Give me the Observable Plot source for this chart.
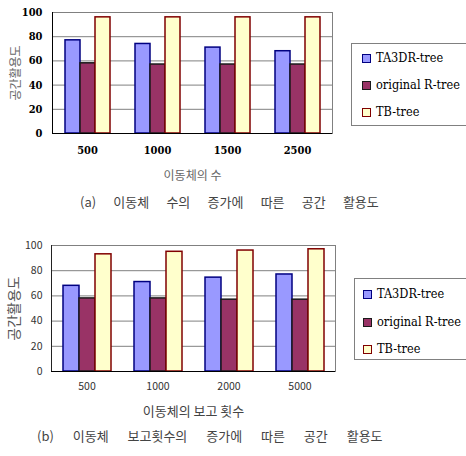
<!DOCTYPE html>
<html><head><meta charset="utf-8">
<script src="https://cdn.jsdelivr.net/npm/d3@7"></script>
<script src="https://cdn.jsdelivr.net/npm/@observablehq/plot@0.6"></script>
<style>
body{margin:0;background:#fff;}
#root{position:relative;width:466px;height:456px;overflow:hidden;background:#fff;}
.panel{position:absolute;left:0;}
.legend{position:absolute;border:1px solid #808080;background:#fff;font-family:"DejaVu Serif",serif;font-stretch:condensed;font-size:13px;color:#000;}
.legend .item{position:absolute;display:flex;align-items:center;white-space:nowrap;height:16px;line-height:16px;}
.legend .sw{width:7px;height:7px;border:1px solid;margin-right:5px;flex:none;}
.caption{position:absolute;font-family:"Noto Sans CJK KR",sans-serif;color:#444;font-size:13px;white-space:nowrap;line-height:16px;}
#pa svg g[aria-label="y-axis tick label"], #pa svg g[aria-label="fx-axis tick label"]{font-family:"DejaVu Serif",serif;font-stretch:condensed;font-weight:bold;font-size:11px;fill:#000;}
#pb svg g[aria-label="y-axis tick label"], #pb svg g[aria-label="fx-axis tick label"]{font-family:"Noto Sans CJK KR",sans-serif;font-size:10.5px;fill:#333;}
#pa svg g[aria-label="y-axis label"], #pa svg g[aria-label="fx-axis label"]{font-family:"Noto Sans CJK KR",sans-serif;font-size:12px;fill:#666;}
#pb svg g[aria-label="y-axis label"]{font-family:"Noto Sans CJK KR",sans-serif;font-size:14px;fill:#555;}
#pb svg g[aria-label="fx-axis label"]{font-family:"Noto Sans CJK KR",sans-serif;font-size:13px;fill:#444;}
</style>
</head><body>
<div id="root"></div>
<script>
const seriesNames = ["TA3DR-tree", "original R-tree", "TB-tree"];
const seriesFill = ["#9999FF", "#993366", "#FFFFCC"];
const seriesStroke = ["#000080", "#1a1a1a", "#800000"];

const categoriesA = ["500", "1000", "1500", "2500"];
const ta3drA = [77, 74, 71, 68];
const rtreeA = [58, 57, 57, 57];
const tbA = [96, 96, 96, 96];

const categoriesB = ["500", "1000", "2000", "5000"];
const ta3drB = [68, 71, 74.5, 77];
const rtreeB = [58, 58, 57, 57];
const tbB = [93, 95, 96, 97];

const yTicks = [0, 20, 40, 60, 80, 100];
const yLabel = "공간활용도";
const xLabelA = "이동체의 수";
const xLabelB = "이동체의 보고 횟수";
const captionA = "(a) 이동체 수의 증가에 따른 공간 활용도";
const captionB = "(b) 이동체 보고횟수의 증가에 따른 공간 활용도";

function table(cats, valueLists) {
  const out = [];
  valueLists.forEach((vals, si) => cats.forEach((c, i) => out.push({cat: c, series: seriesNames[si], value: vals[i]})));
  return out;
}

function panel(cfg, useSuper) {
  const rows = table(cfg.cats, cfg.values);
  const marks = [
    Plot.ruleY(yTicks.filter(v => v > 0), {stroke: "#808080", strokeWidth: 1})
  ];
  if (useSuper) {
    marks.push(Plot.frame({stroke: "#808080", facet: "super"}));
    marks.push(Plot.frame({anchor: "left", stroke: cfg.leftStroke, facet: "super"}));
  }
  seriesNames.forEach((s, i) => {
    marks.push(Plot.barY(rows.filter(d => d.series === s), {
      fx: "cat", x: "series", y: "value",
      fill: seriesFill[i], stroke: seriesStroke[i], strokeWidth: 1.5
    }));
  });
  marks.push(Plot.ruleY([0], {stroke: "#000", strokeWidth: 1.2}));
  return Plot.plot({
    width: cfg.width, height: cfg.height,
    marginLeft: cfg.ml, marginRight: cfg.mr, marginTop: cfg.mt, marginBottom: cfg.mb,
    style: {background: "transparent", overflow: "visible"},
    fx: {domain: cfg.cats, padding: 0, label: cfg.xLabel, labelAnchor: "center", labelArrow: "none", labelOffset: cfg.fxLabelOffset, tickSize: 0, tickPadding: cfg.fxTickPadding},
    x: {domain: seriesNames, paddingInner: 0, paddingOuter: 0.7, axis: null},
    y: {domain: [0, 100], ticks: yTicks, label: yLabel, labelAnchor: "center", labelArrow: "none", labelOffset: cfg.yLabelOffset, tickSize: 0, tickPadding: cfg.yTickPadding},
    marks
  });
}

function build(cfg) {
  let svg;
  try { svg = panel(cfg, true); } catch (e) { svg = panel(cfg, false); }
  return svg;
}

const root = document.getElementById("root");

const cfgA = {cats: categoriesA, values: [ta3drA, rtreeA, tbA], width: 345, height: 185, ml: 51, mr: 12, mt: 12, mb: 52,
  xLabel: xLabelA, fxLabelOffset: 46, fxTickPadding: 13, yLabelOffset: 41, yTickPadding: 10, leftStroke: "#000"};
const cfgB = {cats: categoriesB, values: [ta3drB, rtreeB, tbB], width: 345, height: 195, ml: 50, mr: 10, mt: 20, mb: 49,
  xLabel: xLabelB, fxLabelOffset: 44, fxTickPadding: 11, yLabelOffset: 42, yTickPadding: 9, leftStroke: "#222"};

function addPanel(id, top, cfg) {
  const d = document.createElement("div");
  d.className = "panel"; d.id = id; d.style.top = top + "px";
  d.appendChild(build(cfg));
  root.appendChild(d);
}
addPanel("pa", 0, cfgA);
addPanel("pb", 225, cfgB);

function legend(left, top, h, itemTops, swLeft) {
  const L = document.createElement("div");
  L.className = "legend";
  Object.assign(L.style, {left: left + "px", top: top + "px", width: "140px", height: h + "px"});
  const spans = [];
  seriesNames.forEach((s, i) => {
    const it = document.createElement("div");
    it.className = "item";
    Object.assign(it.style, {left: swLeft + "px", top: itemTops[i] + "px"});
    const sw = document.createElement("span");
    sw.className = "sw";
    sw.style.background = seriesFill[i];
    sw.style.borderColor = seriesStroke[i];
    const t = document.createElement("span");
    t.textContent = s;
    it.appendChild(sw); it.appendChild(t);
    L.appendChild(it);
    spans.push(t);
  });
  root.appendChild(L);
  // shrink the legend font so the longest entry fits the reference's width
  const w = spans[1].getBoundingClientRect().width;
  const target = 84;
  if (w > target) L.style.fontSize = (13 * target / w).toFixed(2) + "px";
}
legend(351, 43, 81, [6, 33, 60], 10);
legend(354, 278, 80, [7, 35, 62], 8);

function caption(text, left, top, spacing) {
  const c = document.createElement("div");
  c.className = "caption";
  c.textContent = text;
  Object.assign(c.style, {left: left + "px", top: top + "px", wordSpacing: spacing + "px"});
  root.appendChild(c);
}
caption(captionA, 80, 194, 14.3);
caption(captionB, 37, 428, 16);
</script>
</body></html>
